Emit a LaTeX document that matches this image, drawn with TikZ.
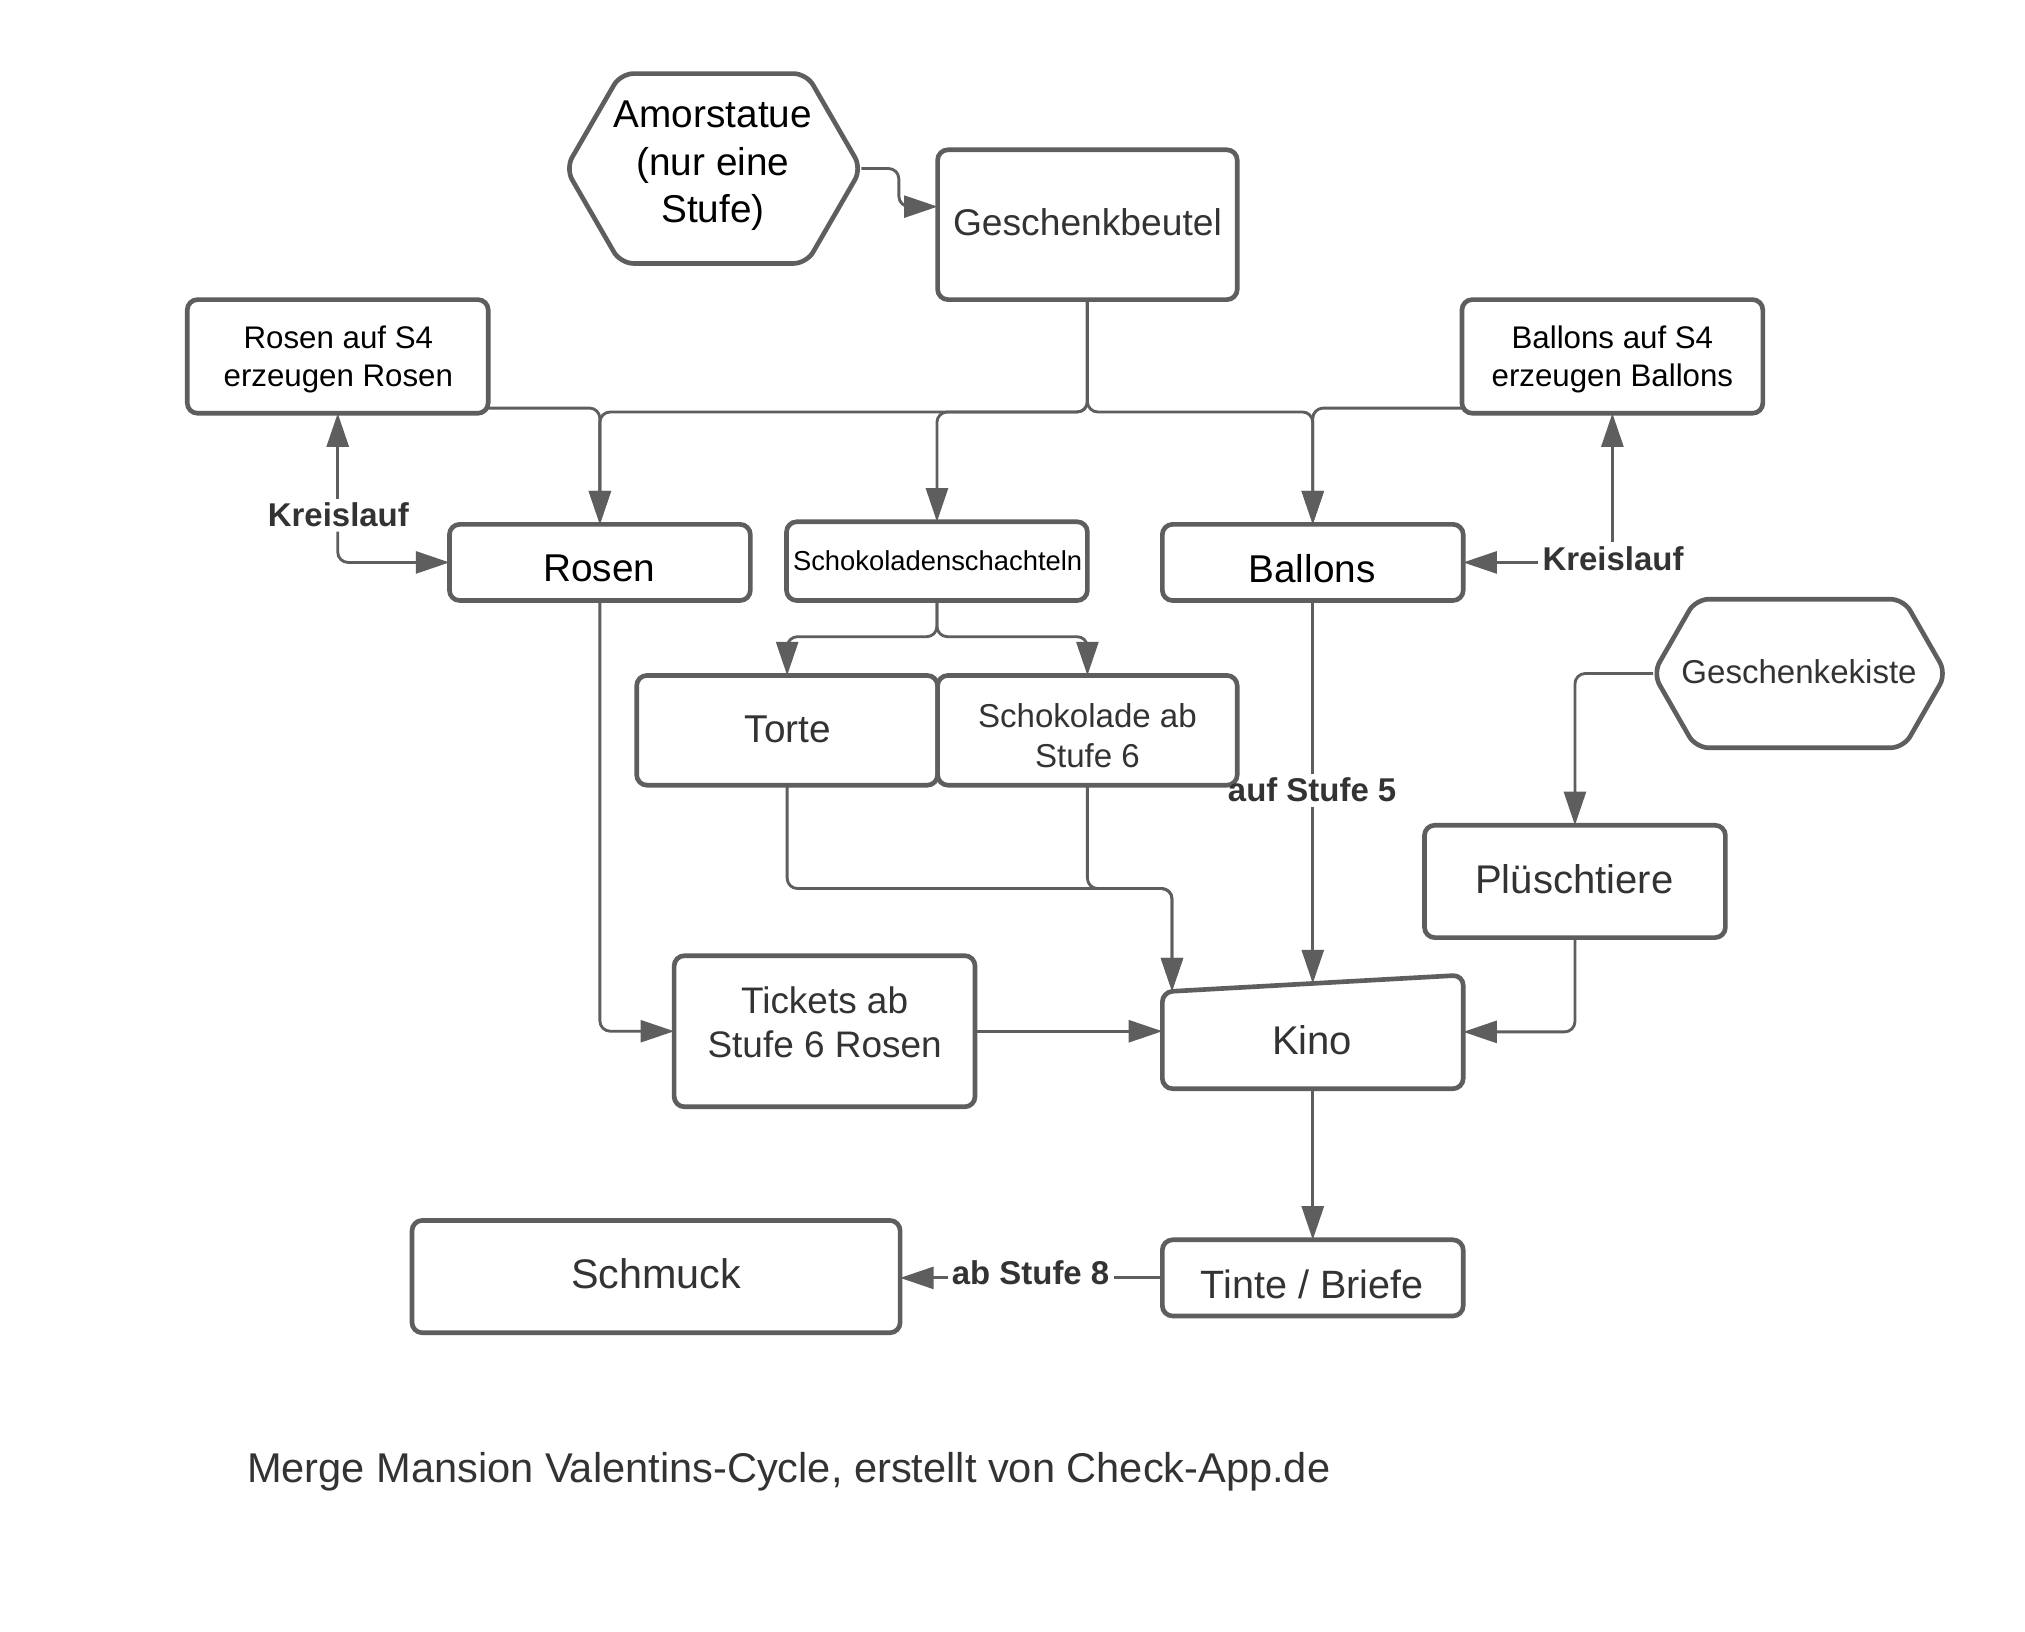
\documentclass[tikz,border=0pt]{standalone}
\usepackage{fontspec}
\setmainfont{Liberation Sans}
\usetikzlibrary{arrows.meta,calc}
\definecolor{lg}{RGB}{94,94,94}
\definecolor{tg}{RGB}{51,51,51}
\newcommand{\setfs}[2]{\fontsize{#1}{#2}\selectfont}
\begin{document}
\begin{tikzpicture}[x=0.5pt,y=-0.5pt,
  box/.style={draw=lg, line width=1.8pt, rounded corners=4pt, inner sep=0pt, outer sep=0pt, fill=white},
  anchorbox/.style={inner sep=0pt, outer sep=0pt},
  shapeline/.style={draw=lg, line width=1.8pt, rounded corners=5pt, fill=white},
  conn/.style={draw=lg, line width=1.1pt, rounded corners=4pt, -{Triangle[length=13pt,width=8.5pt]}},
  plainconn/.style={draw=lg, line width=1.1pt, rounded corners=4pt},
  txt/.style={inner sep=0pt, align=center, text=tg, yshift=-1.2pt},
  blk/.style={inner sep=0pt, align=center, text=black, yshift=-1.2pt},
  lbl/.style={inner sep=1.5pt, text=tg, font=\bfseries\setfs{12.75pt}{15pt}, yshift=-0.4pt}
]
\fill[white] (0,0) rectangle (1568,1263);
\useasboundingbox (0,0) rectangle (1568,1263);

% ---------- shapes ----------
% Amorstatue hexagon
\draw[shapeline] (438,130.5) -- (480.5,57) -- (624.5,57) -- (667,130.5) -- (624.5,204) -- (480.5,204) -- cycle;
\node[anchorbox, minimum width=114.5pt, minimum height=73.5pt] (amor) at (552.5,130.5) {};
\node[blk, font=\setfs{15pt}{18.3pt}] (amorT) at (552,126) {Amorstatue\\(nur eine\\Stufe)};

% Geschenkekiste hexagon
\draw[shapeline] (1280,521.5) -- (1313,464) -- (1474,464) -- (1507,521.5) -- (1474,579) -- (1313,579) -- cycle;
\node[anchorbox, minimum width=113.5pt, minimum height=57.5pt] (kiste) at (1393.5,521.5) {};
\node[txt, font=\setfs{12.8pt}{15pt}] (kisteT) at (1393,518) {Geschenkekiste};

% rectangular boxes
\node[box, minimum width=116pt, minimum height=58pt] (geschenk) at (842,174) {};
\node[txt, font=\setfs{14.4pt}{17pt}] (geschenkT) at (842,170) {Geschenkbeutel};

\node[box, minimum width=116.5pt, minimum height=44pt] (rosenS4) at (261.5,276) {};
\node[blk, font=\setfs{12.1pt}{15pt}] (rosenS4T) at (262,276) {Rosen auf S4\\erzeugen Rosen};

\node[box, minimum width=116.5pt, minimum height=44pt] (ballonsS4) at (1248.5,276) {};
\node[blk, font=\setfs{12.1pt}{15pt}] (ballonsS4T) at (1248.5,276) {Ballons auf S4\\erzeugen Ballons};

\node[box, minimum width=116.5pt, minimum height=29.5pt] (rosen) at (464.5,435.5) {};
\node[blk, font=\setfs{15pt}{18pt}] (rosenT) at (464,438) {Rosen};

\node[box, minimum width=116.5pt, minimum height=30.5pt] (schoko) at (725.5,434.5) {};
\node[blk, font=\setfs{10.6pt}{13pt}] (schokoT) at (726,432) {Schokoladenschachteln};

\node[box, minimum width=116.5pt, minimum height=29.5pt] (ballons) at (1016.5,435.5) {};
\node[blk, font=\setfs{15pt}{18pt}] (ballonsT) at (1016,438) {Ballons};

\node[box, minimum width=116.5pt, minimum height=42.5pt] (torte) at (609.5,565.5) {};
\node[txt, font=\setfs{15pt}{18pt}] (torteT) at (610,562) {Torte};

\node[box, minimum width=116pt, minimum height=42.5pt] (schokolade) at (842,565.5) {};
\node[txt, font=\setfs{12.8pt}{15.5pt}] (schokoladeT) at (842,567.5) {Schokolade ab\\Stufe 6};

\node[box, minimum width=116.5pt, minimum height=43.5pt] (plusch) at (1219.5,682.5) {};
\node[txt, font=\setfs{15.5pt}{18pt}] (pluschT) at (1219,678) {Plüschtiere};

% Kino (slanted top)
\draw[box] (900,768) -- (1133,755) -- (1133,843) -- (900,843) -- cycle;
\node[anchorbox, minimum width=116.5pt, minimum height=44pt] (kino) at (1016.5,799) {};
\node[txt, font=\setfs{15.5pt}{18pt}] (kinoT) at (1016,803) {Kino};
\coordinate (kinoA) at (907.5,767.6);
\coordinate (kinoB) at (1016.5,761.5);

\node[box, minimum width=116.5pt, minimum height=58.5pt] (tickets) at (638.5,798.5) {};
\node[txt, font=\setfs{14.3pt}{17pt}] (ticketsT) at (638.5,789) {Tickets ab\\Stufe 6 Rosen};

\node[box, minimum width=116.5pt, minimum height=29.5pt] (tinte) at (1016.5,989.5) {};
\node[txt, font=\setfs{15.3pt}{18pt}] (tinteT) at (1016,992) {Tinte / Briefe};

\node[box, minimum width=189pt, minimum height=43.5pt] (schmuck) at (508,988.5) {};
\node[txt, font=\setfs{16pt}{19pt}] (schmuckT) at (508,984) {Schmuck};

% caption
\node[txt, anchor=west, font=\setfs{16.1pt}{19pt}] (caption) at (191,1137) {Merge Mansion Valentins-Cycle, erstellt von Check-App.de};

% ---------- labels ----------
\node[lbl] (kreisL) at (262,398) {Kreislauf};
\node[lbl] (kreisR) at (1249,432) {Kreislauf};
\node[lbl] (stufe5) at (1016,611) {auf Stufe 5};
\node[lbl] (stufe8) at (798,985) {ab Stufe 8};

% ---------- connectors ----------
\coordinate (gsplit) at (842,319);
\coordinate (gin) at (726,160);
\coordinate (rs4out) at (378,316);
\coordinate (bs4out) at (1132,316);

\draw[conn] (amor.east) -- ++(29,0) |- (gin);

\draw[conn] (geschenk.south) -- (gsplit) -| (rosen.north);
\draw[conn] (geschenk.south) -- (gsplit) -| (schoko.north);
\draw[conn] (geschenk.south) -- (gsplit) -| (ballons.north);
\draw[conn] (rs4out) -| (rosen.north);
\draw[conn] (bs4out) -| (ballons.north);

\draw[conn] (kreisL.north -| rosenS4.south) -- (rosenS4.south);
\draw[conn] (kreisL.south -| rosenS4.south) |- (rosen.west);
\draw[conn] (kreisR.north -| ballonsS4.south) -- (ballonsS4.south);
\draw[conn] (kreisR.west |- ballons.east) -- (ballons.east);

\draw[conn] (schoko.south) -- ++(0,28) -| (torte.north);
\draw[conn] (schoko.south) -- ++(0,28) -| (schokolade.north);

\draw[conn] (rosen.south) |- (tickets.west);
\draw[conn] (tickets.east) -- (kino.west |- tickets.east);
\draw[conn] (torte.south) -- ++(0,80) -| (kinoA);
\draw[conn] (schokolade.south) -- ++(0,80) -| (kinoA);

\draw[plainconn] (ballons.south) -- (stufe5.north -| ballons.south);
\draw[conn] (stufe5.south -| kinoB) -- (kinoB);

\draw[conn] (kiste.west) -| (plusch.north);
\draw[conn] (plusch.south) |- (kino.east);
\draw[conn] (kino.south) -- (tinte.north);

\draw[plainconn] (tinte.west) -- (stufe8.east |- tinte.west);
\draw[conn] (stufe8.west |- tinte.west) -- (schmuck.east |- tinte.west);
\end{tikzpicture}
\end{document}
